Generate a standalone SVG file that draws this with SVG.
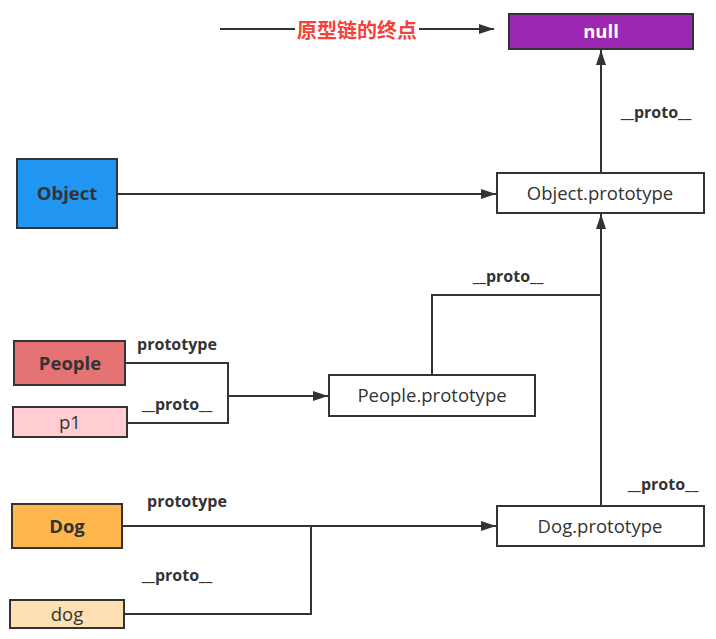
<svg xmlns="http://www.w3.org/2000/svg" width="716" height="639" viewBox="0 0 716 639">
<defs>
<marker id="arr" markerWidth="16" markerHeight="10" refX="15" refY="5" orient="auto" markerUnits="userSpaceOnUse">
<path d="M0,0 L15,5 L0,10 Z" fill="#333"/>
</marker>
</defs>
<style>
.box{stroke:#333;stroke-width:2}
.bold{font-family:"Open Sans","Noto Sans","Liberation Sans",sans-serif;font-weight:bold;font-size:18.5px;fill:#333}
.norm{font-family:"Open Sans","Noto Sans","Liberation Sans",sans-serif;font-size:18.5px;fill:#333}
.lbl{font-family:"Open Sans","Noto Sans","Liberation Sans",sans-serif;font-weight:bold;font-size:16px;fill:#333}
.ln{fill:none;stroke:#333;stroke-width:2}
</style>
<rect width="716" height="639" fill="#fff"/>
<g id="connectors">
<line class="ln" x1="220" y1="29" x2="494" y2="29" marker-end="url(#arr)"/>
<line class="ln" x1="601" y1="173" x2="601" y2="50" marker-end="url(#arr)"/>
<line class="ln" x1="118" y1="194" x2="496" y2="194" marker-end="url(#arr)"/>
<line class="ln" x1="601" y1="505" x2="601" y2="214" marker-end="url(#arr)"/>
<polyline class="ln" points="432,375 432,295 601,295"/>
<polyline class="ln" points="125,363 228,363 228,396"/>
<polyline class="ln" points="127,423 228,423 228,396"/>
<line class="ln" x1="228" y1="396" x2="328" y2="396" marker-end="url(#arr)"/>
<line class="ln" x1="122" y1="526" x2="496" y2="526" marker-end="url(#arr)"/>
<polyline class="ln" points="124,614 311,614 311,526"/>
<rect x="295" y="16" width="124" height="28" fill="#fff"/>
<text x="357" y="38" text-anchor="middle" style="font-family:'Noto Sans CJK SC',sans-serif;font-weight:bold;font-size:20px;fill:#F5413A">原型链的终点</text>
<text class="lbl" x="656" y="118" text-anchor="middle">__proto__</text>
<text class="lbl" x="508" y="282" text-anchor="middle">__proto__</text>
<text class="lbl" x="177" y="350" text-anchor="middle">prototype</text>
<text class="lbl" x="177" y="410" text-anchor="middle">__proto__</text>
<text class="lbl" x="187" y="507" text-anchor="middle">prototype</text>
<text class="lbl" x="177" y="581" text-anchor="middle">__proto__</text>
<text class="lbl" x="663" y="490" text-anchor="middle">__proto__</text>
</g>
<g id="null">
<rect class="box" x="509" y="14" width="184" height="35" fill="#9C27B0"/>
<text x="601" y="38" text-anchor="middle" class="bold" style="fill:#fff">null</text>
</g>
<g id="object">
<rect class="box" x="17" y="159" width="100" height="69" fill="#2196F3"/>
<text x="67" y="200" text-anchor="middle" class="bold">Object</text>
</g>
<g id="object-prototype">
<rect class="box" x="497" y="173" width="207" height="40" fill="#fff"/>
<text x="600" y="200" text-anchor="middle" class="norm">Object.prototype</text>
</g>
<g id="people">
<rect class="box" x="14" y="341" width="111" height="44" fill="#E57373"/>
<text x="70" y="370" text-anchor="middle" class="bold">People</text>
</g>
<g id="p1">
<rect class="box" x="13" y="407" width="114" height="30" fill="#FFCDD2"/>
<text x="70" y="429" text-anchor="middle" class="norm">p1</text>
</g>
<g id="people-prototype">
<rect class="box" x="329" y="375" width="206" height="41" fill="#fff"/>
<text x="432" y="402" text-anchor="middle" class="norm">People.prototype</text>
</g>
<g id="dog">
<rect class="box" x="12" y="504" width="110" height="44" fill="#FFB74D"/>
<text x="67" y="533" text-anchor="middle" class="bold">Dog</text>
</g>
<g id="dog-instance">
<rect class="box" x="10" y="600" width="114" height="28" fill="#FFE0B2"/>
<text x="67" y="621" text-anchor="middle" class="norm">dog</text>
</g>
<g id="dog-prototype">
<rect class="box" x="497" y="506" width="207" height="40" fill="#fff"/>
<text x="600" y="533" text-anchor="middle" class="norm">Dog.prototype</text>
</g>
</svg>
